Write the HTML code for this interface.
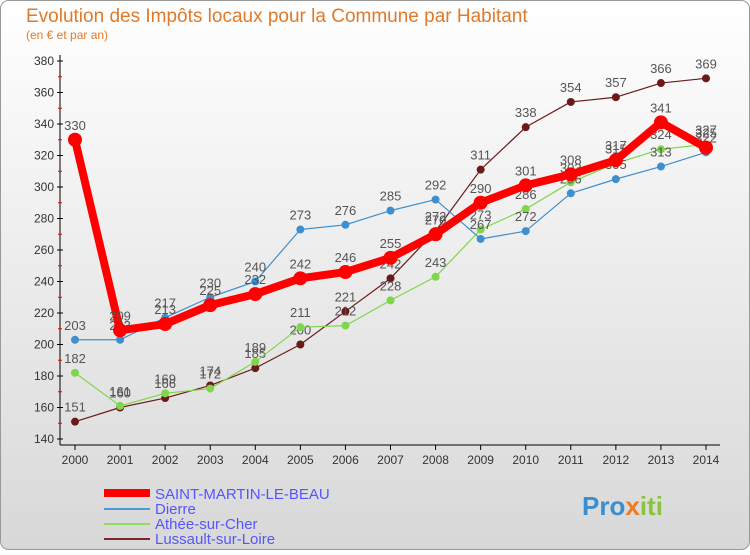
<!DOCTYPE html>
<html><head><meta charset="utf-8"><style>
body{margin:0;width:750px;height:550px;overflow:hidden;font-family:"Liberation Sans",sans-serif}
</style></head><body>
<svg width="750" height="550" xmlns="http://www.w3.org/2000/svg">
<defs><linearGradient id="bg" x1="0" y1="0" x2="0" y2="1"><stop offset="0" stop-color="#ffffff"/><stop offset="1" stop-color="#d8d8d8"/></linearGradient></defs>
<rect x="0.5" y="0.5" width="749" height="549" rx="8" fill="url(#bg)" stroke="#999"/>
<text x="26" y="22" font-size="19" fill="#e07a2a">Evolution des Impôts locaux pour la Commune par Habitant</text>
<text x="26" y="39" font-size="12" fill="#e07a2a">(en € et par an)</text>
<g id="axes"></g>
<g id="series"></g>
<g>
<line x1="104" y1="493" x2="150" y2="493" stroke="#ff0000" stroke-width="8"/>
<text x="155" y="499" font-size="15" fill="#5555ff">SAINT-MARTIN-LE-BEAU</text>
<line x1="104" y1="509" x2="150" y2="509" stroke="#4e9ad6" stroke-width="2"/>
<text x="155" y="514" font-size="15" fill="#5555ff">Dierre</text>
<line x1="104" y1="524" x2="150" y2="524" stroke="#8ee05a" stroke-width="2"/>
<text x="155" y="529" font-size="15" fill="#5555ff">Athée-sur-Cher</text>
<line x1="104" y1="539" x2="150" y2="539" stroke="#7a2a2a" stroke-width="2"/>
<text x="155" y="544" font-size="15" fill="#5555ff">Lussault-sur-Loire</text>
</g>
<text x="582" y="515" font-size="26" font-weight="bold" fill="#3a8fd0">Pro<tspan fill="#f07b1e">x</tspan><tspan fill="#8ac43f">iti</tspan></text>
</svg>
<script>
const years=[2000,2001,2002,2003,2004,2005,2006,2007,2008,2009,2010,2011,2012,2013,2014];
const yTicks=[140,160,180,200,220,240,260,280,300,320,340,360,380];
const smb=[330,209,213,225,232,242,246,255,270,290,301,308,317,341,325];
const dierre=[203,203,217,230,240,273,276,285,292,267,272,296,305,313,322];
const athee=[182,161,169,172,189,211,212,228,243,273,286,303,315,324,327];
const lussault=[151,160,166,174,185,200,221,242,272,311,338,354,357,366,369];
const NS="http://www.w3.org/2000/svg";
const X=i=>75+i*(706-75)/(years.length-1);
const Y=v=>439-(v-140)*(439-61)/240;
function mk(tag,attrs,parent){const e=document.createElementNS(NS,tag);for(const k in attrs)e.setAttribute(k,attrs[k]);parent.appendChild(e);return e;}
const ax=document.getElementById('axes');
let l=mk('line',{x1:60,y1:55,x2:60,y2:445,stroke:'#000'},ax);


l=mk('line',{x1:60,y1:445,x2:720,y2:445,stroke:'#000'},ax);


yTicks.forEach((t,k)=>{
 const y=Y(t);
 mk('line',{x1:57,y1:y,x2:63,y2:y,stroke:'#000'},ax);
 if(k>0) mk('line',{x1:58,y1:y+(439-61)/24,x2:62,y2:y+(439-61)/24,stroke:'#e00'},ax);
 const tx=mk('text',{x:54,y:y+4,'font-size':12,'text-anchor':'end',fill:'#333'},ax);
 tx.textContent=t;
 
 
});
years.forEach((yr,i)=>{
 mk('line',{x1:X(i),y1:445,x2:X(i),y2:450,stroke:'#000'},ax);
 const tx=mk('text',{x:X(i),y:464,'font-size':12,'text-anchor':'middle',fill:'#333'},ax);
 tx.textContent=yr;
 
 
});
const sg=document.getElementById('series');
function draw(vals,color,w,r,name){
 const g=mk('g',{},sg);
 
 
 const p=mk('polyline',{points:vals.map((v,i)=>X(i)+','+Y(v)).join(' '),fill:'none',stroke:color,'stroke-width':w,'stroke-linejoin':'round'},g);
 
 
 vals.forEach((v,i)=>{
  const c=mk('circle',{cx:X(i),cy:Y(v),r:r,fill:color},g);
  
  
  const t=mk('text',{x:X(i),y:Y(v)-10,'font-size':13,'text-anchor':'middle',fill:'#555'},g);
  t.textContent=v;
  
  
 });
}
draw(lussault,'#6b1a1a',1.2,4,'lussault-series');
draw(athee,'#7fd64a',1.2,4,'athee-series');
draw(dierre,'#3d8fd0',1.2,4,'dierre-series');
draw(smb,'#ff0000',8,7,'saint-martin-series');
</script>
</body></html>
